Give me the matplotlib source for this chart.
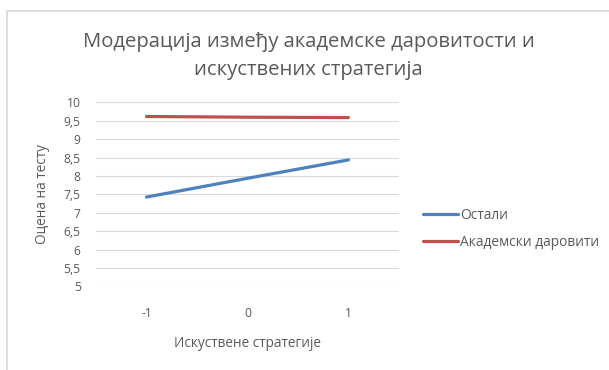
import matplotlib
matplotlib.use("Agg")
import matplotlib.pyplot as plt
from matplotlib.patches import Rectangle

plt.rcParams["font.family"] = ["Open Sans", "DejaVu Sans"]

# simple slopes: test score at -1 / 0 / +1 SD of experiential strategies
categories = ["-1", "0", "1"]
ostali = [7.43, 7.94, 8.44]
darovitii = [9.62, 9.60, 9.59]
y_ticks = [5, 5.5, 6, 6.5, 7, 7.5, 8, 8.5, 9, 9.5, 10]

GRAY = "#595959"

fig = plt.figure(figsize=(6.09, 3.70), dpi=100)
ax = fig.add_axes([0.1576, 0.2257, 0.4975, 0.4973])

x = range(len(categories))
ax.plot(x, ostali, color="#4f81bd", lw=2.3, solid_capstyle="round", label="Остали")
ax.plot(x, darovitii, color="#c0504d", lw=2.3, solid_capstyle="round", label="Академски даровити")

ax.set_xlim(-0.5, len(categories) - 0.5)
ax.set_ylim(5, 10)
ax.set_xticks(list(x))
ax.set_xticklabels(categories)
ax.set_yticks(y_ticks)
ax.set_yticklabels([f"{v:g}".replace(".", ",") for v in y_ticks])
ax.tick_params(length=0, labelsize=8.7, labelcolor=GRAY)
ax.tick_params(axis="x", pad=15)
ax.tick_params(axis="y", pad=11)
ax.grid(axis="y", color="#d9d9d9", lw=0.8)
ax.set_axisbelow(True)
for s in ax.spines.values():
    s.set_visible(False)

ax.set_xlabel("Искуствене стратегије", fontsize=9.8, color=GRAY, labelpad=11)
ax.set_ylabel("Оцена на тесту", fontsize=9.8, color=GRAY, labelpad=10)

# two-line title, baselines placed separately
fig.text(0.507, 1 - 47 / 370, "Модерација између академске даровитости и",
         ha="center", va="baseline", fontsize=14.6, color=GRAY)
fig.text(0.507, 1 - 75 / 370, "искуствених стратегија",
         ha="center", va="baseline", fontsize=14.6, color=GRAY)

ax.legend(loc="center left", bbox_to_anchor=(423 / 609, 1 - 229 / 370),
          bbox_transform=fig.transFigure, borderaxespad=0, borderpad=0,
          frameon=False, fontsize=9.9, labelcolor=GRAY, handlelength=2.55,
          handletextpad=0.15, labelspacing=0.9)

# chart-area border (only top and left edges fall inside the canvas)
fig.patches.append(Rectangle((7 / 609, -0.1), 1.2, 1 - 11 / 370 + 0.1,
                             transform=fig.transFigure, fill=False,
                             edgecolor="#d9d9d9", lw=1.2))

fig.savefig("out.png", dpi=100)
